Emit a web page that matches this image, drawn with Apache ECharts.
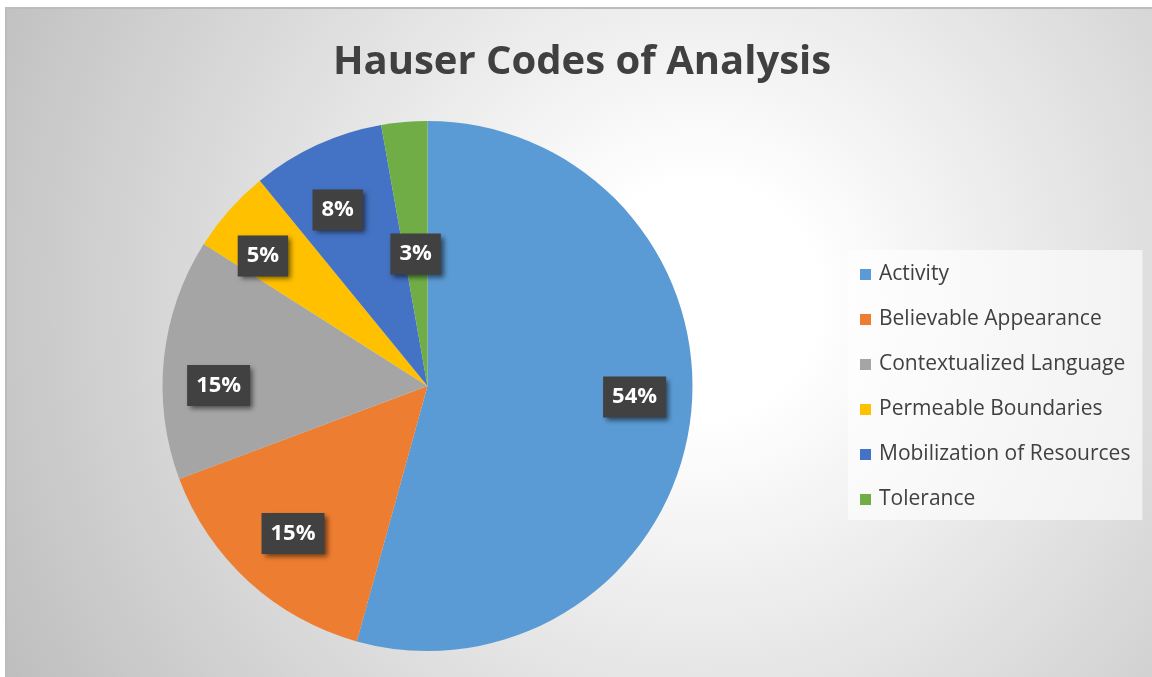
<!DOCTYPE html>
<html>
<head>
<meta charset="utf-8">
<script src="https://cdn.jsdelivr.net/npm/echarts@6/dist/echarts.min.js"></script>
<style>
  html, body { margin: 0; padding: 0; background: #ffffff; }
  #chart { width: 1152px; height: 677px; }
</style>
</head>
<body>
<div id="chart"></div>
<script>
// ---- data ----
const titleText = 'Hauser Codes of Analysis';
const categories = ['Activity', 'Believable Appearance', 'Contextualized Language', 'Permeable Boundaries', 'Mobilization of Resources', 'Tolerance'];
const values = [54.3, 15.0, 14.7, 5.1, 8.1, 2.8];
// label shown on the inner ring (true) or on the outer ring (false)
const innerLabel = [false, false, false, false, false, true];

// ---- styles ----
const palette = ['#5B9BD5', '#ED7D31', '#A5A5A5', '#FFC000', '#4472C4', '#70AD47'];
// small label nudges (px) to mimic the original "best fit" placement
const labelNudge = [[1, -17], [6, -6], [-2, 21], [-9, 8], [-3, 13], [0, 3]];
const FONT = 'Open Sans';
const CENTER = [427.5, 386];
const R = 265;

const labelStyle = {
  color: '#ffffff',
  fontFamily: FONT,
  fontWeight: 'bold',
  fontSize: 22,
  lineHeight: 26,
  backgroundColor: '#414141',
  padding: [8, 9, 7, 9],
  shadowColor: 'rgba(0,0,0,0.55)',
  shadowBlur: 5,
  shadowOffsetX: 3,
  shadowOffsetY: 3,
  formatter: '{d}%'
};

const mainData = categories.map((name, i) => ({
  name: name,
  value: values[i],
  itemStyle: { color: palette[i] },
  label: Object.assign({ show: innerLabel[i], position: 'inside' }, labelStyle)
}));

const ringData = categories.map((name, i) => ({
  name: name,
  value: values[i],
  itemStyle: { color: 'rgba(0,0,0,0)' },
  label: Object.assign({ show: !innerLabel[i], position: 'inside' }, labelStyle)
}));

function nudge(params) {
  const d = labelNudge[params.dataIndex] || [0, 0];
  return { dx: d[0], dy: d[1] };
}

const chart = echarts.init(document.getElementById('chart'), null, { renderer: 'canvas', width: 1152, height: 677 });

chart.setOption({
  animation: false,
  backgroundColor: '#ffffff',
  graphic: [{
    type: 'rect',
    z: -10,
    silent: true,
    shape: { x: 6, y: 8, width: 1160, height: 680 },
    style: {
      fill: {
        type: 'radial', global: true,
        x: 700, y: 300, r: 790,
        colorStops: [
          { offset: 0, color: '#ffffff' },
          { offset: 0.15, color: '#ffffff' },
          { offset: 1, color: '#bebebe' }
        ]
      },
      stroke: '#bcbcbc',
      lineWidth: 2
    }
  }],
  title: {
    text: titleText,
    left: 577,
    textAlign: 'center',
    top: 31,
    textStyle: {
      fontFamily: FONT,
      fontWeight: 'bold',
      fontSize: 40,
      lineHeight: 54,
      color: '#404040'
    }
  },
  legend: {
    orient: 'vertical',
    left: 848,
    top: 250,
    padding: [14, 12, 10, 12],
    backgroundColor: 'rgba(255,255,255,0.6)',
    itemWidth: 11,
    itemHeight: 11,
    itemGap: 24,
    icon: 'rect',
    data: categories,
    textStyle: {
      fontFamily: FONT,
      fontSize: 21,
      lineHeight: 21,
      color: '#404040',
      padding: [0, 0, 0, 3]
    }
  },
  series: [
    {
      type: 'pie',
      name: 'main',
      center: CENTER,
      radius: [0, R],
      startAngle: 90,
      clockwise: true,
      avoidLabelOverlap: false,
      percentPrecision: 0,
      silent: true,
      labelLine: { show: false },
      labelLayout: nudge,
      itemStyle: { borderWidth: 0 },
      emphasis: { disabled: true },
      data: mainData
    },
    {
      type: 'pie',
      name: 'labels',
      center: CENTER,
      radius: [145, R],
      startAngle: 90,
      clockwise: true,
      avoidLabelOverlap: false,
      percentPrecision: 0,
      silent: true,
      legendHoverLink: false,
      labelLine: { show: false },
      labelLayout: nudge,
      itemStyle: { borderWidth: 0 },
      emphasis: { disabled: true },
      z: 3,
      data: ringData
    }
  ]
});
</script>
</body>
</html>
